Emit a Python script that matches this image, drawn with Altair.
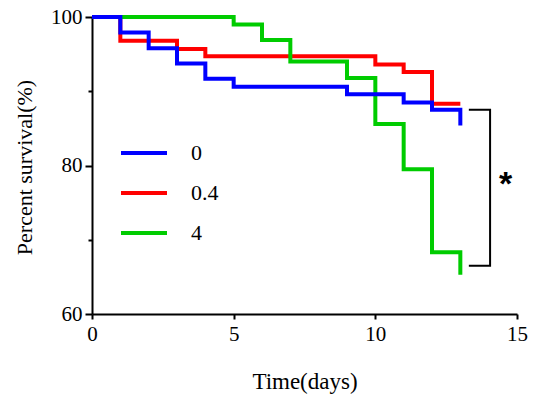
import altair as alt
import pandas as pd

series_names = ["0", "0.4", "4"]
colors = ["#0000FF", "#FF0000", "#00CC00"]

t_0 = [0, 1, 2, 3, 4, 5, 9, 11, 12, 13]
s_0 = [100, 97.9, 95.8, 93.75, 91.7, 90.6, 89.6, 88.5, 87.5, 85.4]

t_04 = [0, 1, 3, 4, 10, 11, 12, 13]
s_04 = [100, 96.8, 95.7, 94.7, 93.6, 92.6, 88.3, 88.3]

t_4 = [0, 5, 6, 7, 9, 10, 11, 12, 13]
s_4 = [100, 99.0, 96.9, 94.0, 91.8, 85.6, 79.5, 68.3, 65.3]

bracket_x = [13.3, 14.05, 14.05, 13.3]
bracket_y = [87.5, 87.5, 66.5, 66.5]
star_x = [14.6]
star_y = [78.5]

FONT = "Liberation Serif"

def make_df(t, s, name):
    return pd.DataFrame({"time": t, "surv": s, "group": [name] * len(t), "idx": list(range(len(t)))})

df0 = make_df(t_0, s_0, "0")
df04 = make_df(t_04, s_04, "0.4")
df4 = make_df(t_4, s_4, "4")

xscale = alt.Scale(domain=[0, 15], nice=False)
yscale = alt.Scale(domain=[60, 100], nice=False, zero=False)

xaxis = alt.Axis(values=[0, 5, 10, 15], title="Time(days)", grid=False, labelFlush=False,
                 domainColor="black", domainWidth=2, tickColor="black", tickWidth=2,
                 tickSize=5, labelFont=FONT, labelFontSize=21, labelColor="black",
                 labelPadding=4, titleFont=FONT, titleFontSize=23, titleFontWeight="normal",
                 titleColor="black", titleBaseline="alphabetic", titleY=74)
yaxis = alt.Axis(values=[60, 70, 80, 90, 100], title="Percent survival(%)", grid=False,
                 labelFlush=False,
                 domainColor="black", domainWidth=2, tickColor="black", tickWidth=2,
                 tickSize={"condition": {"test": "datum.value % 20 != 0", "value": 4}, "value": 7},
                 labelExpr="datum.value % 20 == 0 ? datum.label : ''",
                 labelFont=FONT, labelFontSize=21, labelColor="black", labelPadding=3,
                 titleFont=FONT, titleFontSize=22, titleFontWeight="normal", titleColor="black",
                 titleX=-68, titleY=150, titleBaseline="middle", titleAngle=270)

color = alt.Color("group:N",
                  scale=alt.Scale(domain=series_names, range=colors),
                  legend=alt.Legend(title=None, orient="none", legendX=27, legendY=111,
                                    symbolType="stroke", symbolSize=2116, symbolStrokeWidth=4,
                                    labelFont=FONT, labelFontSize=22, labelColor="black",
                                    labelOffset=22, rowPadding=4, padding=0))

def line_layer(df):
    return alt.Chart(df).mark_line(interpolate="step-after", strokeWidth=4).encode(
        x=alt.X("time:Q", scale=xscale, axis=xaxis),
        y=alt.Y("surv:Q", scale=yscale, axis=yaxis),
        color=color,
        order="idx:Q",
    )

bracket_df = pd.DataFrame({"bx": bracket_x, "by": bracket_y, "idx": list(range(len(bracket_x)))})
bracket = alt.Chart(bracket_df).mark_line(color="black", strokeWidth=2).encode(
    x=alt.X("bx:Q", scale=xscale),
    y=alt.Y("by:Q", scale=yscale),
    order="idx:Q",
)

star_df = pd.DataFrame({"sx": star_x, "sy": star_y, "txt": ["*"]})
star = alt.Chart(star_df).mark_text(font="Liberation Sans", fontSize=34, fontWeight="bold",
                                    color="black", baseline="middle", dy=8).encode(
    x=alt.X("sx:Q", scale=xscale),
    y=alt.Y("sy:Q", scale=yscale),
    text="txt:N",
)

chart = alt.layer(line_layer(df04), line_layer(df4), line_layer(df0), bracket, star).properties(
    width=425, height=297,
    padding={"left": 92, "top": 17, "right": 20, "bottom": 85},
    autosize=alt.AutoSizeParams(type="none"),
    background="white",
).configure_view(stroke=None)

chart.save("out.html", embed_options={"renderer": "svg", "actions": False})
